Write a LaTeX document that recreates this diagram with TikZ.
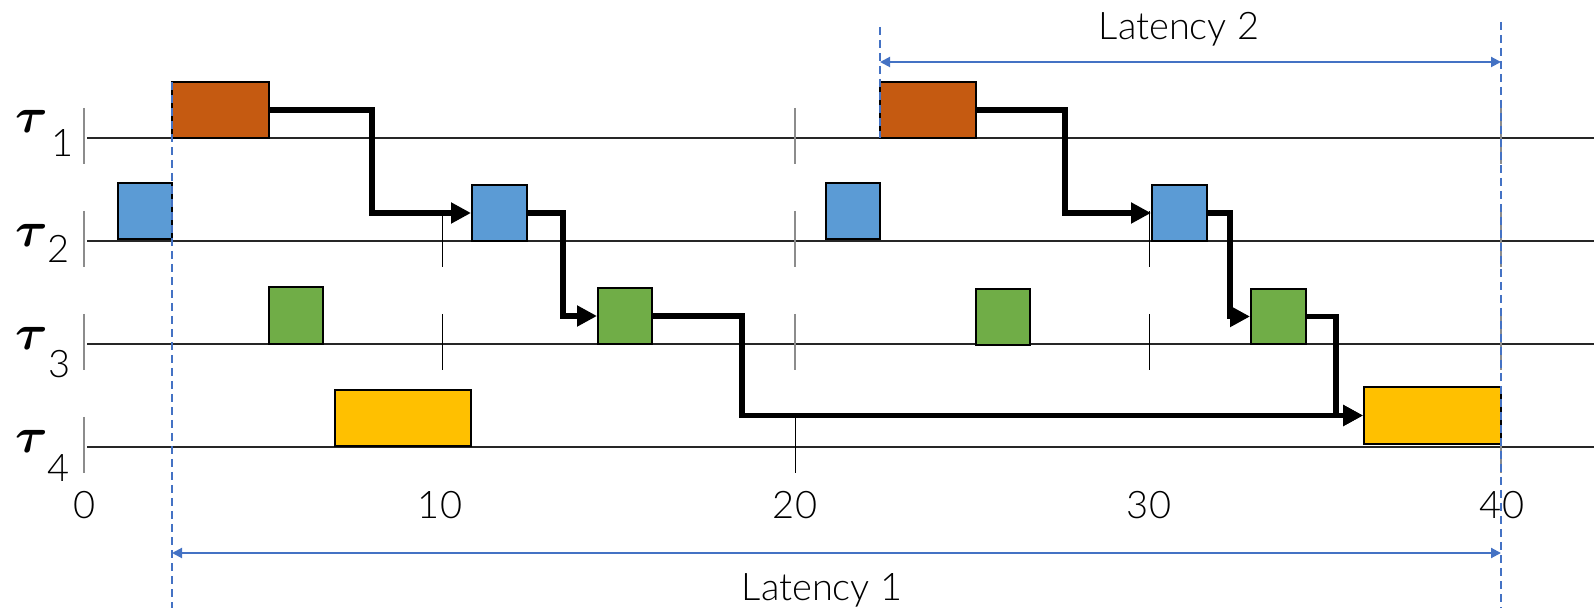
\documentclass[tikz,border=0pt]{standalone}
\usepackage{amsmath}
\usepackage{fontspec}
\setmainfont{Lato Light}
\usetikzlibrary{arrows.meta,fit,calc}
\definecolor{jobred}{HTML}{C55A11}
\definecolor{jobblue}{HTML}{5B9BD5}
\definecolor{jobgreen}{HTML}{70AD47}
\definecolor{jobyellow}{HTML}{FFC000}
\definecolor{latblue}{HTML}{4472C4}

\begin{document}
\begin{tikzpicture}[x=0.5pt,y=-0.5pt,
                    axis/.style={line width=0.8pt,black!85},
                    tick/.style={line width=1pt,black!45},
                    tick ten/.style={line width=0.5pt,black},
                    job/.style={draw,line width=1pt,inner sep=0pt},
                    chain/.style={line width=2.6pt,-{Triangle[length=10pt,width=10pt]}},
                    latency/.style={line width=1pt,latblue,{Triangle[length=5pt,width=5pt]}-{Triangle[length=5pt,width=5pt]}},
                    guide/.style={line width=1pt,latblue,dash pattern=on 4pt off 2.5pt},
                    label text/.style={font=\fontsize{19}{20}\selectfont,anchor=base,inner sep=0pt},
                    task name/.style={font=\fontsize{31}{31}\selectfont,anchor=base west,inner sep=0pt}]
            \useasboundingbox (0,0) rectangle (1594,608);
            % time lines
            \draw[axis] (87,138) -- (1594,138);
            \draw[axis] (87,241) -- (1594,241);
            \draw[axis] (87,344) -- (1594,344);
            \draw[axis] (87,447) -- (1594,447);
            \draw[tick] (84,108) -- (84,164);
            \draw[tick] (795,108) -- (795,164);
            \draw[tick] (1501,108) -- (1501,164);
            \draw[tick] (84,211) -- (84,267);
            \draw[tick ten] (442,211) -- (442,267);
            \draw[tick] (795,211) -- (795,267);
            \draw[tick ten] (1149,211) -- (1149,267);
            \draw[tick] (1501,211) -- (1501,267);
            \draw[tick] (84,314) -- (84,370);
            \draw[tick ten] (442,314) -- (442,370);
            \draw[tick] (795,314) -- (795,370);
            \draw[tick ten] (1149,314) -- (1149,370);
            \draw[tick] (1501,314) -- (1501,370);
            \draw[tick] (84,417) -- (84,473);
            \draw[tick ten] (795,417) -- (795,473);
            \draw[tick] (1501,417) -- (1501,473);
            % task names
            \node[task name] (tau1) at (15,133) {$\boldsymbol{\tau}$};
            \node[task name] (tau2) at (15,247) {$\boldsymbol{\tau}$};
            \node[task name] (tau3) at (15,350) {$\boldsymbol{\tau}$};
            \node[task name] (tau4) at (15,453) {$\boldsymbol{\tau}$};
            \node[label text,anchor=base west] (tau1 sub) at (51,157) {1};
            \node[label text,anchor=base west] (tau2 sub) at (47,263) {2};
            \node[label text,anchor=base west] (tau3 sub) at (48,378) {3};
            \node[label text,anchor=base west] (tau4 sub) at (47,481) {4};
            % jobs
            \node[job,fill=jobred,fit={(172,82) (269,138)}] (t1a) {};
            \node[job,fill=jobred,fit={(880,82) (976,138)}] (t1b) {};
            \node[job,fill=jobblue,fit={(118,183) (172,239)}] (t2a) {};
            \node[job,fill=jobblue,fit={(472,185) (527,241)}] (t2b) {};
            \node[job,fill=jobblue,fit={(826,183) (880,239)}] (t2c) {};
            \node[job,fill=jobblue,fit={(1152,185) (1207,241)}] (t2d) {};
            \node[job,fill=jobgreen,fit={(269,287) (323,344)}] (t3a) {};
            \node[job,fill=jobgreen,fit={(598,288) (652,344)}] (t3b) {};
            \node[job,fill=jobgreen,fit={(976,289) (1030,345)}] (t3c) {};
            \node[job,fill=jobgreen,fit={(1251,289) (1306,344)}] (t3d) {};
            \node[job,fill=jobyellow,fit={(335,390) (471,446)}] (t4a) {};
            \node[job,fill=jobyellow,fit={(1364,387) (1501,444)}] (t4b) {};
            % cause-effect chains
            \draw[chain] (t1a.east) -- ++(102,0) |- (t2b.west);
            \draw[chain] (t2b.east) -- ++(35,0) |- (t3b.west);
            \draw[chain] (t3b.east) -- ++(89,0) |- (t4b.west);
            \draw[chain] (t1b.east) -- ++(88,0) |- (t2d.west);
            \draw[chain] (t2d.east) -- ++(22,0) |- (t3d.west);
            \draw[chain] (t3d.east) -- ++(29,0) |- (t4b.west);
            % axis numbers
            \node[label text] (n0) at (85,518) {0};
            \node[label text] (n10) at (440,518) {10};
            \node[label text] (n20) at (795,518) {20};
            \node[label text] (n30) at (1149,518) {30};
            \node[label text] (n40) at (1502,518) {40};
            % latencies
            \coordinate (lat1 start) at (172,82);
            \coordinate (lat1 bottom) at (172,608);
            \coordinate (lat2 start) at (880,27);
            \coordinate (lat2 bottom) at (880,138);
            \coordinate (end top) at (1501,22);
            \coordinate (end bottom) at (1501,608);
            \draw[guide] (lat1 start) -- (lat1 bottom);
            \draw[guide] (lat2 start) -- (lat2 bottom);
            \draw[guide] (end top) -- (end bottom);
            \draw[latency] ($ (lat1 start) + (0,471) $) -- ($ (end top) + (0,531) $);
            \draw[latency] ($ (lat2 start) + (0,35) $) -- ($ (end top) + (0,40) $);
            \node[label text] (lat1 text) at (822,600) {Latency 1};
            \node[label text] (lat2 text) at (1179,40) {Latency 2};

        \end{tikzpicture}
\end{document}
